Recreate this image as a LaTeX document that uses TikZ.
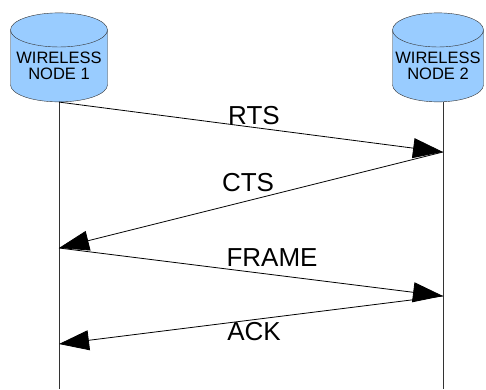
\documentclass[tikz,border=0pt]{standalone}
\usepackage{fontspec}
\setmainfont{Liberation Sans}
\usetikzlibrary{shapes.geometric,arrows.meta}
\definecolor{nodeblue}{HTML}{99CCFF}

\begin{document}
\begin{tikzpicture}[
		x=1pt,y=-1pt,
		station/.style={cylinder,shape border rotate=90,draw=black!80,fill=nodeblue,
			aspect=0.4,minimum width=97pt,minimum height=89pt,inner sep=0pt,
			align=center,font=\fontsize{16.5}{16}\selectfont},
		msg/.style={line width=0.8pt,-{Triangle[length=30pt,width=20pt]}},
		lbl/.style={font=\fontsize{26}{26}\selectfont,inner sep=0pt},
		life/.style={line width=0.8pt,black!80}
		]
		\useasboundingbox (0,0) rectangle (486,389);
		% the two stations
		\node[station] (n1) at (59,66) {WIRELESS\\NODE 1};
		\node[station,minimum width=91pt] (n2) at (438,66) {WIRELESS\\NODE 2};
		% lifelines
		\coordinate (e1) at (59,389);
		\coordinate (e2) at (443,389);
		\draw[life] (n1.south) -- (e1);
		\draw[life] (n2.south -| e2) -- (e2);
		% message points
		\coordinate (p1) at (443,152);
		\coordinate (p2) at (59,248);
		\coordinate (p3) at (443,296);
		\coordinate (p4) at (59,344);
		\draw[msg] (n1.south) -- (p1);
		\draw[msg] (p1) -- (p2);
		\draw[msg] (p2) -- (p3);
		\draw[msg] (p3) -- (p4);
		% labels
		\node[lbl] (rts) at (254,116) {RTS};
		\node[lbl] (cts) at (248,183) {CTS};
		\node[lbl] (frame) at (272,258) {FRAME};
		\node[lbl] (ack) at (254,332) {ACK};
	\end{tikzpicture}
\end{document}
